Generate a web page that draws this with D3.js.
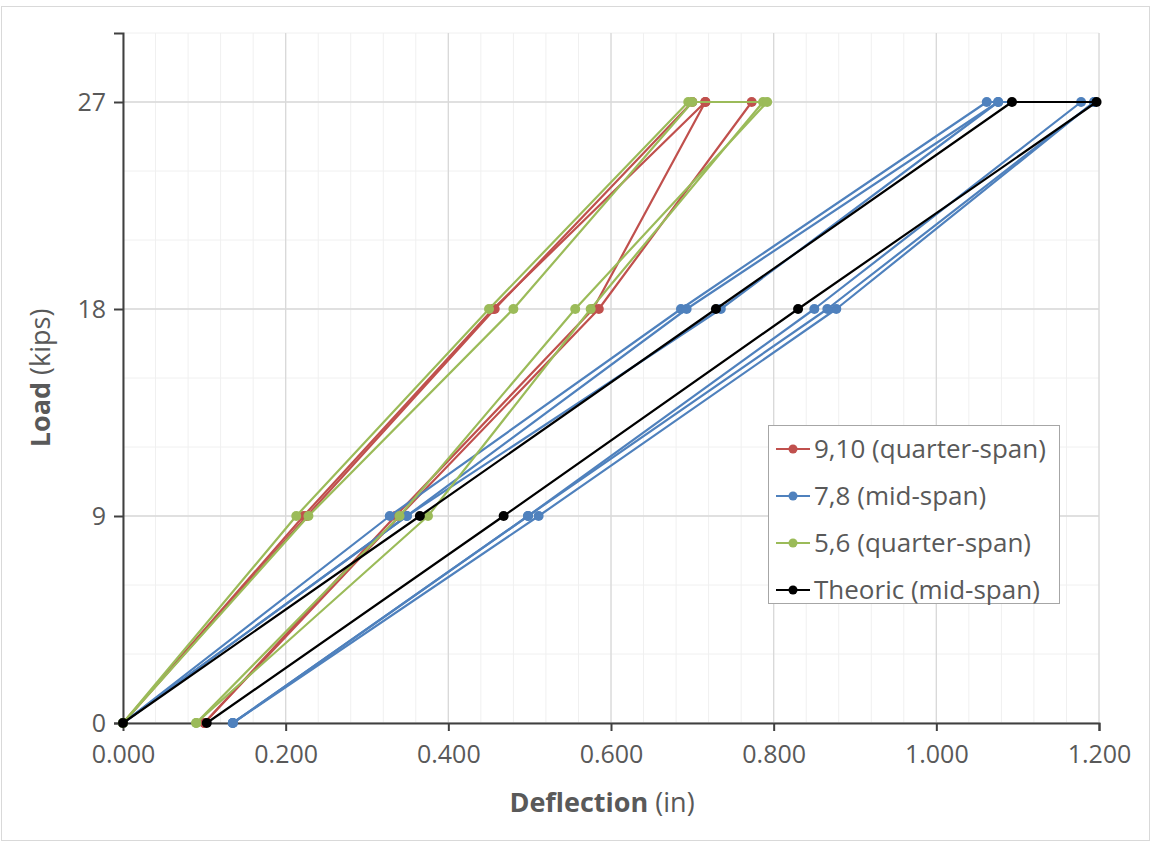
<!DOCTYPE html>
<html><head><meta charset="utf-8">
<script src="https://cdn.jsdelivr.net/npm/d3@7"></script>
<style>body{margin:0;background:#fff;} text{font-family:"Open Sans",sans-serif;}</style>
</head><body>
<svg id="chart" width="1151" height="842"></svg>
<script>
// ---- data ----
const seriesNames = ["9,10 (quarter-span)", "7,8 (mid-span)", "5,6 (quarter-span)", "Theoric (mid-span)"];
const seriesColors = ["#c0504d", "#4f81bd", "#9bbb59", "#000000"];
const xTicks = [0, 0.2, 0.4, 0.6, 0.8, 1.0, 1.2];
const yTicks = [0, 9, 18, 27];

// each reading: load path then unload path
const loadCycle = [0, 9, 18, 27, 27, 18, 9, 0];
// 9,10 quarter-span
const gauge9  = [0, 0.222, 0.455, 0.716, 0.716, 0.578, 0.335, 0.100];
const gauge10 = [0, 0.226, 0.457, 0.700, 0.773, 0.585, 0.340, 0.100];
// 7,8 mid-span
const gauge7  = [0, 0.328, 0.686, 1.062, 1.178, 0.850, 0.498, 0.135];
const gauge8  = [0, 0.349, 0.693, 1.076, 1.194, 0.877, 0.511, 0.135];
const gauge8b = [0, 0.349, 0.735, 1.076, 1.194, 0.866, 0.498, 0.135];
// 5,6 quarter-span
const gauge5  = [0, 0.213, 0.450, 0.695, 0.787, 0.575, 0.375, 0.090];
const gauge6  = [0, 0.228, 0.480, 0.700, 0.792, 0.556, 0.340, 0.090];
// theoretical mid-span
const theoric = [0, 0.365, 0.729, 1.093, 1.197, 0.830, 0.468, 0.103];

const seriesGauges = [[gauge9, gauge10], [gauge7, gauge8, gauge8b], [gauge5, gauge6], [theoric]];

// ---- layout ----
const svg = d3.select("#chart");
const W = 1151, H = 842;
const m = {left: 123, right: 52, top: 33, bottom: 119};
const x = d3.scaleLinear().domain([0, 1.2]).range([m.left, W - m.right]);
const y = d3.scaleLinear().domain([0, 30]).range([H - m.bottom, m.top]);

svg.append("rect").attr("x", 1.5).attr("y", 6.5).attr("width", W - 3).attr("height", H - 8)
  .attr("fill", "#fff").attr("stroke", "#d9d9d9");

// minor grid
const g = svg.append("g");
g.selectAll(".vmin").data(d3.range(0, 1.2001, 0.04)).join("line")
  .attr("x1", d => x(d)).attr("x2", d => x(d)).attr("y1", y(30)).attr("y2", y(0))
  .attr("stroke", "#f0f0f0").attr("stroke-width", 1);
g.selectAll(".hmin").data(d3.range(0, 30.01, 3)).join("line")
  .attr("x1", x(0)).attr("x2", x(1.2)).attr("y1", d => y(d)).attr("y2", d => y(d))
  .attr("stroke", "#f0f0f0").attr("stroke-width", 1);
// major grid
g.selectAll(".vmaj").data(xTicks).join("line")
  .attr("x1", d => x(d)).attr("x2", d => x(d)).attr("y1", y(30)).attr("y2", y(0))
  .attr("stroke", "#d9d9d9").attr("stroke-width", 1.3);
g.selectAll(".hmaj").data(yTicks).join("line")
  .attr("x1", x(0)).attr("x2", x(1.2)).attr("y1", d => y(d)).attr("y2", d => y(d))
  .attr("stroke", "#d9d9d9").attr("stroke-width", 1.3);

// axes
const xAxis = d3.axisBottom(x).tickValues(xTicks).tickFormat(d3.format(".3f")).tickSize(8).tickPadding(14);
const yAxis = d3.axisLeft(y).tickValues(yTicks).tickSize(9).tickPadding(8);
const gx = svg.append("g").attr("transform", `translate(0,${y(0)})`).call(xAxis);
const gy = svg.append("g").attr("transform", `translate(${x(0)},0)`).call(yAxis);
[gx, gy].forEach(a => {
  a.select(".domain").attr("stroke", "#404040").attr("stroke-width", 2);
  a.selectAll(".tick line").attr("stroke", "#404040").attr("stroke-width", 2);
  a.selectAll(".tick text").attr("fill", "#595959").style("font-size", "25px").style("font-family", "Open Sans");
});
gx.select(".tick line").remove();

// series
const line = d3.line().x(d => x(d[0])).y(d => y(d[1]));
seriesGauges.forEach((gauges, si) => {
  const sg = svg.append("g");
  gauges.forEach(gd => {
    const pts = gd.map((v, i) => [v, loadCycle[i]]);
    sg.append("path").attr("d", line(pts)).attr("fill", "none")
      .attr("stroke", seriesColors[si]).attr("stroke-width", 2.2).attr("stroke-linejoin", "round");
    sg.selectAll(null).data(pts).join("circle")
      .attr("cx", d => x(d[0])).attr("cy", d => y(d[1])).attr("r", 5)
      .attr("fill", seriesColors[si]);
  });
});

// axis titles
svg.append("text").attr("x", 602).attr("y", 812).attr("text-anchor", "middle")
  .attr("fill", "#595959").style("font-size", "27px")
  .html('<tspan font-weight="bold">Deflection</tspan> (in)');
svg.append("text").attr("transform", "translate(50,378) rotate(-90)").attr("text-anchor", "middle")
  .attr("fill", "#595959").style("font-size", "27px")
  .html('<tspan font-weight="bold">Load</tspan> (kips)');

// legend
const lg = svg.append("g");
lg.append("rect").attr("x", 768.5).attr("y", 425.5).attr("width", 291).attr("height", 178)
  .attr("fill", "#fff").attr("stroke", "#a6a6a6").attr("stroke-width", 1);
seriesNames.forEach((n, i) => {
  const cy = 449 + i * 47;
  lg.append("line").attr("x1", 776).attr("x2", 810).attr("y1", cy).attr("y2", cy)
    .attr("stroke", seriesColors[i]).attr("stroke-width", 2.2);
  lg.append("circle").attr("cx", 793).attr("cy", cy).attr("r", 4.5).attr("fill", seriesColors[i]);
  lg.append("text").attr("x", 814).attr("y", cy).attr("dy", "0.35em")
    .attr("fill", "#595959").style("font-size", "26px").text(n);
});
</script>
</body></html>
